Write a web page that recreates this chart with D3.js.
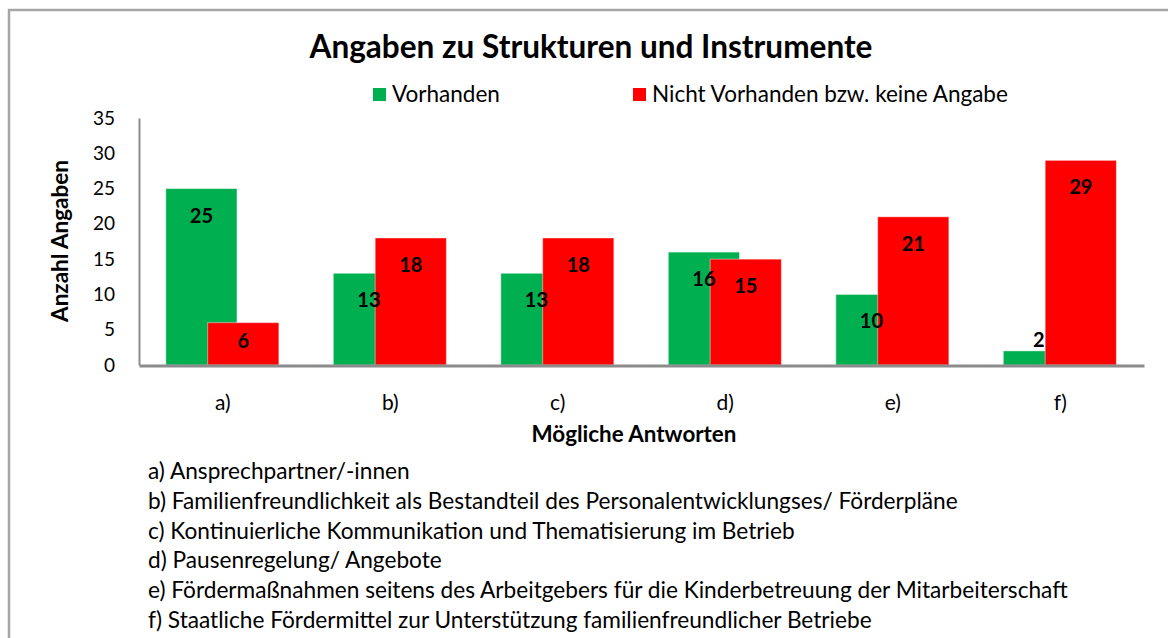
<!DOCTYPE html>
<html>
<head>
    <meta charset="utf-8">
    <title>Angaben zu Strukturen und Instrumente</title>
    <script src="https://d3js.org/d3.v7.min.js"></script>
    <style>
        body { margin: 0; background: #fff; }
        text { font-family: Lato, "Open Sans", sans-serif; fill: #000; }
    </style>
</head>
<body>
<svg width="1168" height="638"></svg>
<script>
    // Daten
    var categories = ["a)", "b)", "c)", "d)", "e)", "f)"];
    var vorhanden = [25, 13, 13, 16, 10, 2];
    var nichtVorhanden = [6, 18, 18, 15, 21, 29];
    var seriesNames = ["Vorhanden", "Nicht Vorhanden bzw. keine Angabe"];
    var seriesColors = ["#00b050", "#ff0000"];
    var yTicks = [0, 5, 10, 15, 20, 25, 30, 35];
    var footnotes = [
        "a) Ansprechpartner/-innen",
        "b) Familienfreundlichkeit als Bestandteil des Personalentwicklungses/ Förderpläne",
        "c) Kontinuierliche Kommunikation und Thematisierung im Betrieb",
        "d) Pausenregelung/ Angebote",
        "e) Fördermaßnahmen seitens des Arbeitgebers für die Kinderbetreuung der Mitarbeiterschaft",
        "f) Staatliche Fördermittel zur Unterstützung familienfreundlicher Betriebe"
    ];

    var svg = d3.select("svg");
    var plot = { left: 139, right: 1144, top: 118, bottom: 365 };

    // passt die Schriftgröße an eine Zielbreite an
    function fit(sel, w) {
        var fs = parseFloat(sel.attr("font-size"));
        var len = sel.node().getComputedTextLength();
        sel.attr("font-size", (fs * w / len).toFixed(2));
        return fs * w / len;
    }

    // Rahmen
    svg.append("path")
        .attr("d", "M9,640 L9,10 L1170,10")
        .attr("fill", "none")
        .attr("stroke", "#a6a6a6")
        .attr("stroke-width", 2.5);

    var x = d3.scaleBand().domain(categories).range([plot.left, plot.right]);
    var y = d3.scaleLinear().domain([0, 35]).range([plot.bottom, plot.top]);

    // Balken
    var bw = x.bandwidth();
    var barW = bw * 0.425;
    var offsets = [-bw * 0.34, -bw * 0.09];
    var series = [vorhanden, nichtVorhanden];

    series.forEach(function (vals, s) {
        var g = svg.append("g");
        g.selectAll("rect")
            .data(vals)
            .enter()
            .append("rect")
            .attr("x", function (d, i) { return x(categories[i]) + bw / 2 + offsets[s]; })
            .attr("y", function (d) { return y(d); })
            .attr("width", barW)
            .attr("height", function (d) { return y(0) - y(d); })
            .attr("fill", seriesColors[s])
            .attr("stroke", "rgba(255,255,255,0.45)")
            .attr("stroke-width", 1);
    });

    // Datenbeschriftungen
    series.forEach(function (vals, s) {
        svg.append("g").selectAll("text")
            .data(vals)
            .enter()
            .append("text")
            .attr("x", function (d, i) { return x(categories[i]) + bw / 2 + offsets[s] + barW / 2; })
            .attr("y", function (d) {
                var h = y(0) - y(d);
                if (h > 30) return y(d) + Math.min(27, h / 2 - 3);
                return y(d) - 11;
            })
            .attr("dy", "0.35em")
            .attr("text-anchor", "middle")
            .attr("font-size", 20)
            .attr("font-weight", "bold")
            .text(function (d) { return d; });
    });

    // Achsen
    var yAxis = svg.append("g")
        .attr("transform", "translate(" + plot.left + ",0)")
        .call(d3.axisLeft(y).tickValues(yTicks).tickSize(0).tickPadding(24));
    yAxis.select(".domain").attr("stroke", "#8c8c8c").attr("stroke-width", 2);
    yAxis.selectAll("text")
        .attr("font-size", 19)
        .attr("font-family", "Lato, sans-serif")
        .attr("fill", "#000");

    var xAxis = svg.append("g")
        .attr("transform", "translate(0," + (plot.bottom + 0.5) + ")")
        .call(d3.axisBottom(x).tickSize(0).tickPadding(30));
    xAxis.select(".domain").attr("stroke", "#8c8c8c").attr("stroke-width", 3);
    xAxis.selectAll("text")
        .attr("font-size", 21)
        .attr("font-family", "Lato, sans-serif")
        .attr("fill", "#000");

    // Titel
    var title = svg.append("text")
        .attr("x", 591)
        .attr("y", 58)
        .attr("text-anchor", "middle")
        .attr("font-size", 28)
        .attr("font-weight", "bold")
        .text("Angaben zu Strukturen und Instrumente");
    fit(title, 563);

    // Legende
    var legX = [373, 633];
    var legW = [108, 356];
    seriesNames.forEach(function (name, s) {
        svg.append("rect")
            .attr("x", legX[s])
            .attr("y", 88)
            .attr("width", 13)
            .attr("height", 13)
            .attr("fill", seriesColors[s]);
        var t = svg.append("text")
            .attr("x", legX[s] + 19)
            .attr("y", 101.5)
            .attr("font-size", 19)
            .text(name);
        fit(t, legW[s]);
    });

    // Achsentitel
    var yTitle = svg.append("text")
        .attr("transform", "translate(68,241) rotate(-90)")
        .attr("text-anchor", "middle")
        .attr("font-size", 19)
        .attr("font-weight", "bold")
        .text("Anzahl Angaben");
    fit(yTitle, 162);

    var xTitle = svg.append("text")
        .attr("x", 634)
        .attr("y", 442)
        .attr("text-anchor", "middle")
        .attr("font-size", 19)
        .attr("font-weight", "bold")
        .text("Mögliche Antworten");
    fit(xTitle, 205);

    // Fußnoten
    var notes = svg.append("g").selectAll("text")
        .data(footnotes)
        .enter()
        .append("text")
        .attr("x", 148)
        .attr("y", function (d, i) { return 479 + i * 29.8; })
        .attr("font-size", 19)
        .text(function (d) { return d; });
    var fs = fit(d3.select(notes.nodes()[4]), 920);
    notes.attr("font-size", fs.toFixed(2));
</script>
</body>
</html>
